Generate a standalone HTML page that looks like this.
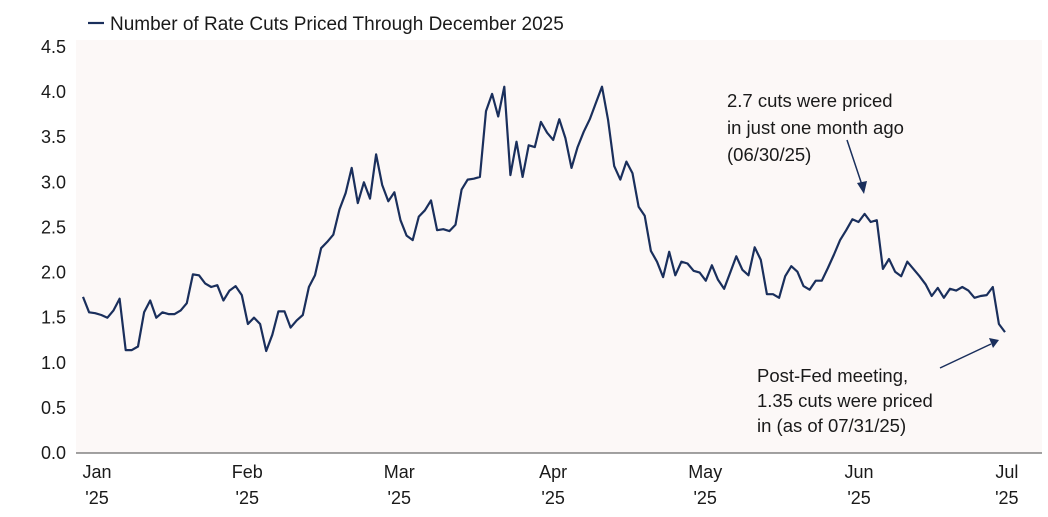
<!DOCTYPE html>
<html><head><meta charset="utf-8">
<style>
body{margin:0;background:#fff;font-family:"Liberation Sans",sans-serif;}
svg{display:block}
</style></head>
<body>
<svg id="chart" width="1048" height="517">
<rect x="76" y="40" width="966" height="413" fill="#fcf8f7"/>
<g id="legend">
<line x1="88" y1="23" x2="104" y2="23" stroke="#1a2f5c" stroke-width="2.2"/>
<text x="110" y="30" font-size="19" fill="#1a1a1a">Number of Rate Cuts Priced Through December 2025</text>
</g>
<g id="yaxis"></g>
<g id="xaxis"></g>
<path id="series" fill="none" stroke="#1a2f5c" stroke-width="2.2" stroke-linejoin="round"/>
<g font-size="18.5" fill="#1a1a1a">
<text x="727" y="107">2.7 cuts were priced</text>
<text x="727" y="134">in just one month ago</text>
<text x="727" y="161">(06/30/25)</text>
</g>
<line x1="847" y1="140" x2="862" y2="185" stroke="#1a2f5c" stroke-width="1.5"/>
<polygon points="864,194 857,183 867,181" fill="#1a2f5c"/>
<g font-size="18.5" fill="#1a1a1a">
<text x="757" y="382">Post-Fed meeting,</text>
<text x="757" y="407">1.35 cuts were priced</text>
<text x="757" y="432">in (as of 07/31/25)</text>
</g>
<line x1="940" y1="368" x2="991" y2="344" stroke="#1a2f5c" stroke-width="1.5"/>
<polygon points="999,340 989,338 993,348" fill="#1a2f5c"/>
</svg>
<script>
const yTicks=[0,0.5,1.0,1.5,2.0,2.5,3.0,3.5,4.0,4.5];
const monthLabels=["Jan","Feb","Mar","Apr","May","Jun","Jul"];
const yearLabel="'25";
const monthIndex=[2.3,26.9,51.8,77,101.9,127.1,151.3];
const values=[1.73,1.56,1.55,1.53,1.50,1.58,1.71,1.14,1.14,1.18,1.56,1.69,1.50,1.56,1.54,1.54,1.58,1.66,1.98,1.97,1.88,1.84,1.86,1.69,1.80,1.85,1.75,1.43,1.50,1.43,1.13,1.31,1.57,1.57,1.39,1.47,1.53,1.84,1.97,2.27,2.34,2.42,2.70,2.88,3.16,2.77,3.00,2.82,3.31,2.97,2.79,2.89,2.58,2.41,2.36,2.62,2.69,2.80,2.47,2.48,2.46,2.53,2.92,3.03,3.04,3.06,3.79,3.98,3.73,4.06,3.08,3.45,3.06,3.41,3.39,3.67,3.55,3.47,3.70,3.49,3.16,3.39,3.56,3.70,3.88,4.06,3.69,3.18,3.03,3.23,3.10,2.73,2.63,2.24,2.12,1.95,2.23,1.97,2.12,2.10,2.02,2.00,1.91,2.08,1.92,1.82,2.00,2.18,2.03,1.97,2.28,2.14,1.76,1.76,1.72,1.96,2.07,2.01,1.85,1.81,1.91,1.91,2.05,2.20,2.36,2.47,2.59,2.56,2.65,2.56,2.58,2.04,2.15,2.01,1.96,2.12,2.04,1.96,1.87,1.74,1.83,1.72,1.82,1.80,1.84,1.80,1.72,1.74,1.75,1.84,1.43,1.34];
const NS="http://www.w3.org/2000/svg";
const x0=83,x1=1005,yBase=453,yTop=47;
const xScale=i=>x0+i*(x1-x0)/(values.length-1);
const yScale=v=>yBase-(v/4.5)*(yBase-yTop);
const ya=document.getElementById('yaxis');
yTicks.forEach(t=>{
 const tx=document.createElementNS(NS,'text');
 
 
 tx.setAttribute('x',66);tx.setAttribute('y',yScale(t)+6);
 tx.setAttribute('text-anchor','end');tx.setAttribute('font-size','18');tx.setAttribute('fill','#1a1a1a');
 tx.textContent=t.toFixed(1);ya.appendChild(tx);
});
const base=document.createElementNS(NS,'line');


base.setAttribute('x1',76);base.setAttribute('x2',1042);base.setAttribute('y1',yBase);base.setAttribute('y2',yBase);
base.setAttribute('stroke','#444');base.setAttribute('stroke-width','1');
ya.appendChild(base);
const xa=document.getElementById('xaxis');
monthLabels.forEach((m,k)=>{
 const cx=xScale(monthIndex[k]);
 [m,yearLabel].forEach((s,j)=>{
  const tx=document.createElementNS(NS,'text');
  
  
  tx.setAttribute('x',cx);tx.setAttribute('y',478+j*26);
  tx.setAttribute('text-anchor','middle');tx.setAttribute('font-size','18');tx.setAttribute('fill','#1a1a1a');
  tx.textContent=s;xa.appendChild(tx);
 });
});
document.getElementById('series').setAttribute('d',values.map((v,i)=>(i?'L':'M')+xScale(i).toFixed(1)+','+yScale(v).toFixed(1)).join(''));
</script>
</body></html>
